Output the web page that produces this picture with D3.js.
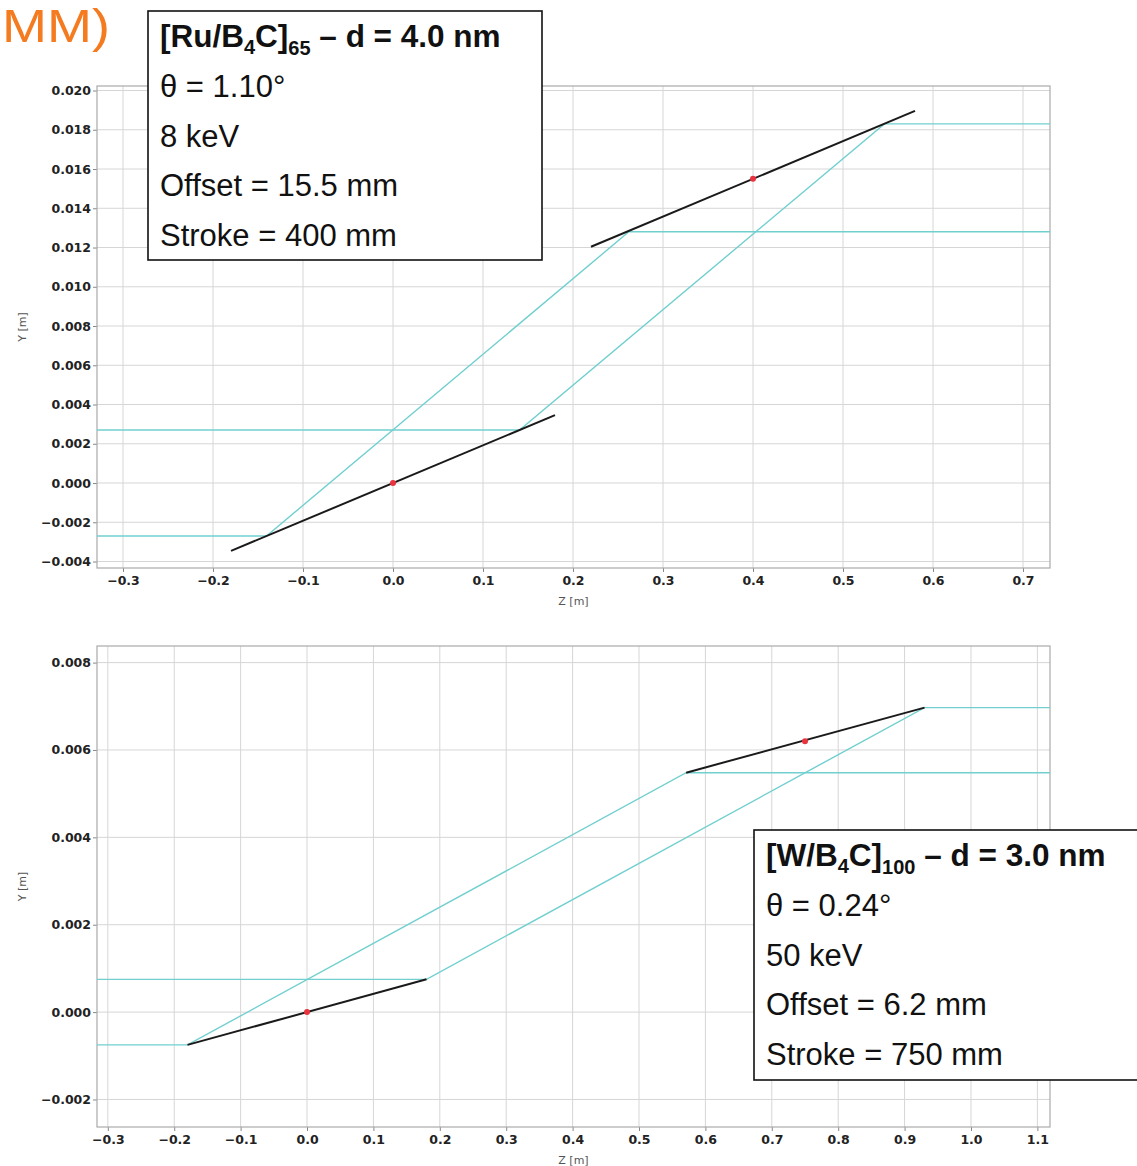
<!DOCTYPE html>
<html>
<head>
<meta charset="utf-8">
<script src="https://cdn.jsdelivr.net/npm/d3@7"></script>
<style>
  html, body { margin: 0; padding: 0; background: #fff; }
  svg { display: block; }
  .tick text { font-family: "DejaVu Sans", sans-serif; font-weight: bold; font-size: 12.5px; fill: #222; }
  .axlabel { font-family: "DejaVu Sans", sans-serif; font-size: 11px; fill: #555; }
  .legend text { font-family: "Liberation Sans", Arial, Helvetica, sans-serif; font-size: 31px; fill: #111; }
</style>
</head>
<body>
<svg id="chart" width="1137" height="1166"></svg>
<script>
// ---- Upper panel: [Ru/B4C]65, 8 keV ----
const topXTicks = [-0.3, -0.2, -0.1, 0.0, 0.1, 0.2, 0.3, 0.4, 0.5, 0.6, 0.7];
const topYTicks = [-0.004, -0.002, 0.000, 0.002, 0.004, 0.006, 0.008, 0.010, 0.012, 0.014, 0.016, 0.018, 0.020];
const topMirror1 = [[-0.18, -0.00346], [0.18, 0.00346]];
const topMirror2 = [[0.22, 0.01204], [0.58, 0.01896]];
const topBeamLow = [[-0.35, -0.0027], [-0.1406, -0.0027], [0.262, 0.0128], [0.76, 0.0128]];
const topBeamHigh = [[-0.35, 0.0027], [0.1406, 0.0027], [0.546, 0.0183], [0.76, 0.0183]];
const topCenters = [[0.0, 0.0], [0.4, 0.0155]];

// ---- Lower panel: [W/B4C]100, 50 keV ----
const botXTicks = [-0.3, -0.2, -0.1, 0.0, 0.1, 0.2, 0.3, 0.4, 0.5, 0.6, 0.7, 0.8, 0.9, 1.0, 1.1];
const botYTicks = [-0.002, 0.000, 0.002, 0.004, 0.006, 0.008];
const botMirror1 = [[-0.18, -0.00075], [0.18, 0.00075]];
const botMirror2 = [[0.571, 0.00548], [0.93, 0.00697]];
const botBeamLow = [[-0.35, -0.00075], [-0.18, -0.00075], [0.571, 0.00548], [1.15, 0.00548]];
const botBeamHigh = [[-0.35, 0.00075], [0.18, 0.00075], [0.93, 0.00697], [1.15, 0.00697]];
const botCenters = [[0.0, 0.0], [0.75, 0.0062]];

// ---- Legend texts ----
const topLegend = { title: ["[Ru/B", "4", "C]", "65", " – d = 4.0 nm"],
  lines: ["θ = 1.10°", "8 keV", "Offset = 15.5 mm", "Stroke = 400 mm"] };
const botLegend = { title: ["[W/B", "4", "C]", "100", " – d = 3.0 nm"],
  lines: ["θ = 0.24°", "50 keV", "Offset = 6.2 mm", "Stroke = 750 mm"] };

const svg = d3.select("#chart");
const fmtY = d => d3.format(".3f")(d).replace("-", "−");
const fmtX = d => d3.format(".1f")(d).replace("-", "−");

function panel(id, box, xDom, yDom, xTicks, yTicks, beams, mirrors, centers) {
  const x = d3.scaleLinear().domain(xDom).range([box.left, box.right]);
  const y = d3.scaleLinear().domain(yDom).range([box.bottom, box.top]);
  const g = svg.append("g");

  g.append("clipPath").attr("id", id).append("rect")
    .attr("x", box.left).attr("y", box.top)
    .attr("width", box.right - box.left).attr("height", box.bottom - box.top);

  // grid
  g.append("g").selectAll("line").data(xTicks).join("line")
    .attr("x1", d => x(d)).attr("x2", d => x(d))
    .attr("y1", box.top).attr("y2", box.bottom)
    .attr("stroke", "#d6d6d6").attr("stroke-width", 1);
  g.append("g").selectAll("line").data(yTicks).join("line")
    .attr("y1", d => y(d)).attr("y2", d => y(d))
    .attr("x1", box.left).attr("x2", box.right)
    .attr("stroke", "#d6d6d6").attr("stroke-width", 1);

  // axes
  const ax = g.append("g").attr("transform", `translate(0,${box.bottom})`)
    .call(d3.axisBottom(x).tickValues(xTicks).tickFormat(fmtX).tickSize(4).tickPadding(4));
  const ay = g.append("g").attr("transform", `translate(${box.left},0)`)
    .call(d3.axisLeft(y).tickValues(yTicks).tickFormat(fmtY).tickSize(4).tickPadding(2));
  [ax, ay].forEach(a => {
    a.select(".domain").remove();
    a.selectAll(".tick line").attr("stroke", "#888");
  });

  // frame
  g.append("rect").attr("x", box.left).attr("y", box.top)
    .attr("width", box.right - box.left).attr("height", box.bottom - box.top)
    .attr("fill", "none").attr("stroke", "#aaa").attr("stroke-width", 1.2);

  const line = d3.line().x(d => x(d[0])).y(d => y(d[1]));
  const plot = g.append("g").attr("clip-path", `url(#${id})`);
  plot.selectAll("path.beam").data(beams).join("path").attr("class", "beam")
    .attr("d", line).attr("fill", "none")
    .attr("stroke", "#72cfcf").attr("stroke-width", 1.4);
  plot.selectAll("path.mirror").data(mirrors).join("path").attr("class", "mirror")
    .attr("d", line).attr("fill", "none")
    .attr("stroke", "#1a1a1a").attr("stroke-width", 2);
  plot.selectAll("circle").data(centers).join("circle")
    .attr("cx", d => x(d[0])).attr("cy", d => y(d[1])).attr("r", 3)
    .attr("fill", "#e8343f");

  // axis labels
  g.append("text").attr("class", "axlabel")
    .attr("x", (box.left + box.right) / 2).attr("y", box.bottom + 37)
    .attr("text-anchor", "middle").text("Z [m]");
  g.append("text").attr("class", "axlabel")
    .attr("transform", `translate(26,${(box.top + box.bottom) / 2}) rotate(-90)`)
    .attr("text-anchor", "middle").text("Y [m]");
}

panel("clipTop", { left: 97, right: 1050, top: 86, bottom: 568 },
  [-0.3289, 0.7300], [-0.00433, 0.02023], topXTicks, topYTicks,
  [topBeamLow, topBeamHigh], [topMirror1, topMirror2], topCenters);

panel("clipBot", { left: 97, right: 1050, top: 646, bottom: 1127 },
  [-0.3163, 1.1190], [-0.00263, 0.00838], botXTicks, botYTicks,
  [botBeamLow, botBeamHigh], [botMirror1, botMirror2], botCenters);

function legend(bx, by, bw, bh, spec) {
  const g = svg.append("g").attr("class", "legend");
  g.append("rect").attr("x", bx).attr("y", by).attr("width", bw).attr("height", bh)
    .attr("fill", "#fff").attr("stroke", "#111").attr("stroke-width", 1.6);
  const t = g.append("text").attr("x", bx + 12).attr("y", by + 36)
    .attr("font-weight", "bold").style("font-size", "31.5px");
  t.append("tspan").text(spec.title[0]);
  t.append("tspan").style("font-size", "20px").attr("dy", 7).text(spec.title[1]);
  t.append("tspan").attr("dy", -7).text(spec.title[2]);
  t.append("tspan").style("font-size", "20px").attr("dy", 8).text(spec.title[3]);
  t.append("tspan").attr("dy", -8).text(spec.title[4]);
  g.selectAll("text.l").data(spec.lines).join("text").attr("class", "l")
    .attr("x", bx + 12).attr("y", (d, i) => by + 86 + i * 49.5).text(d => d);
}

legend(148, 11, 394, 249, topLegend);
legend(754, 830, 390, 250, botLegend);

// slide heading fragment
svg.append("text").attr("x", 2).attr("y", 42).attr("text-anchor", "start")
  .attr("font-family", "Liberation Sans, Arial, sans-serif").attr("font-size", "46px")
  .attr("textLength", 108).attr("lengthAdjust", "spacingAndGlyphs")
  .attr("fill", "#f47b20").text("MM)");
</script>
</body>
</html>
